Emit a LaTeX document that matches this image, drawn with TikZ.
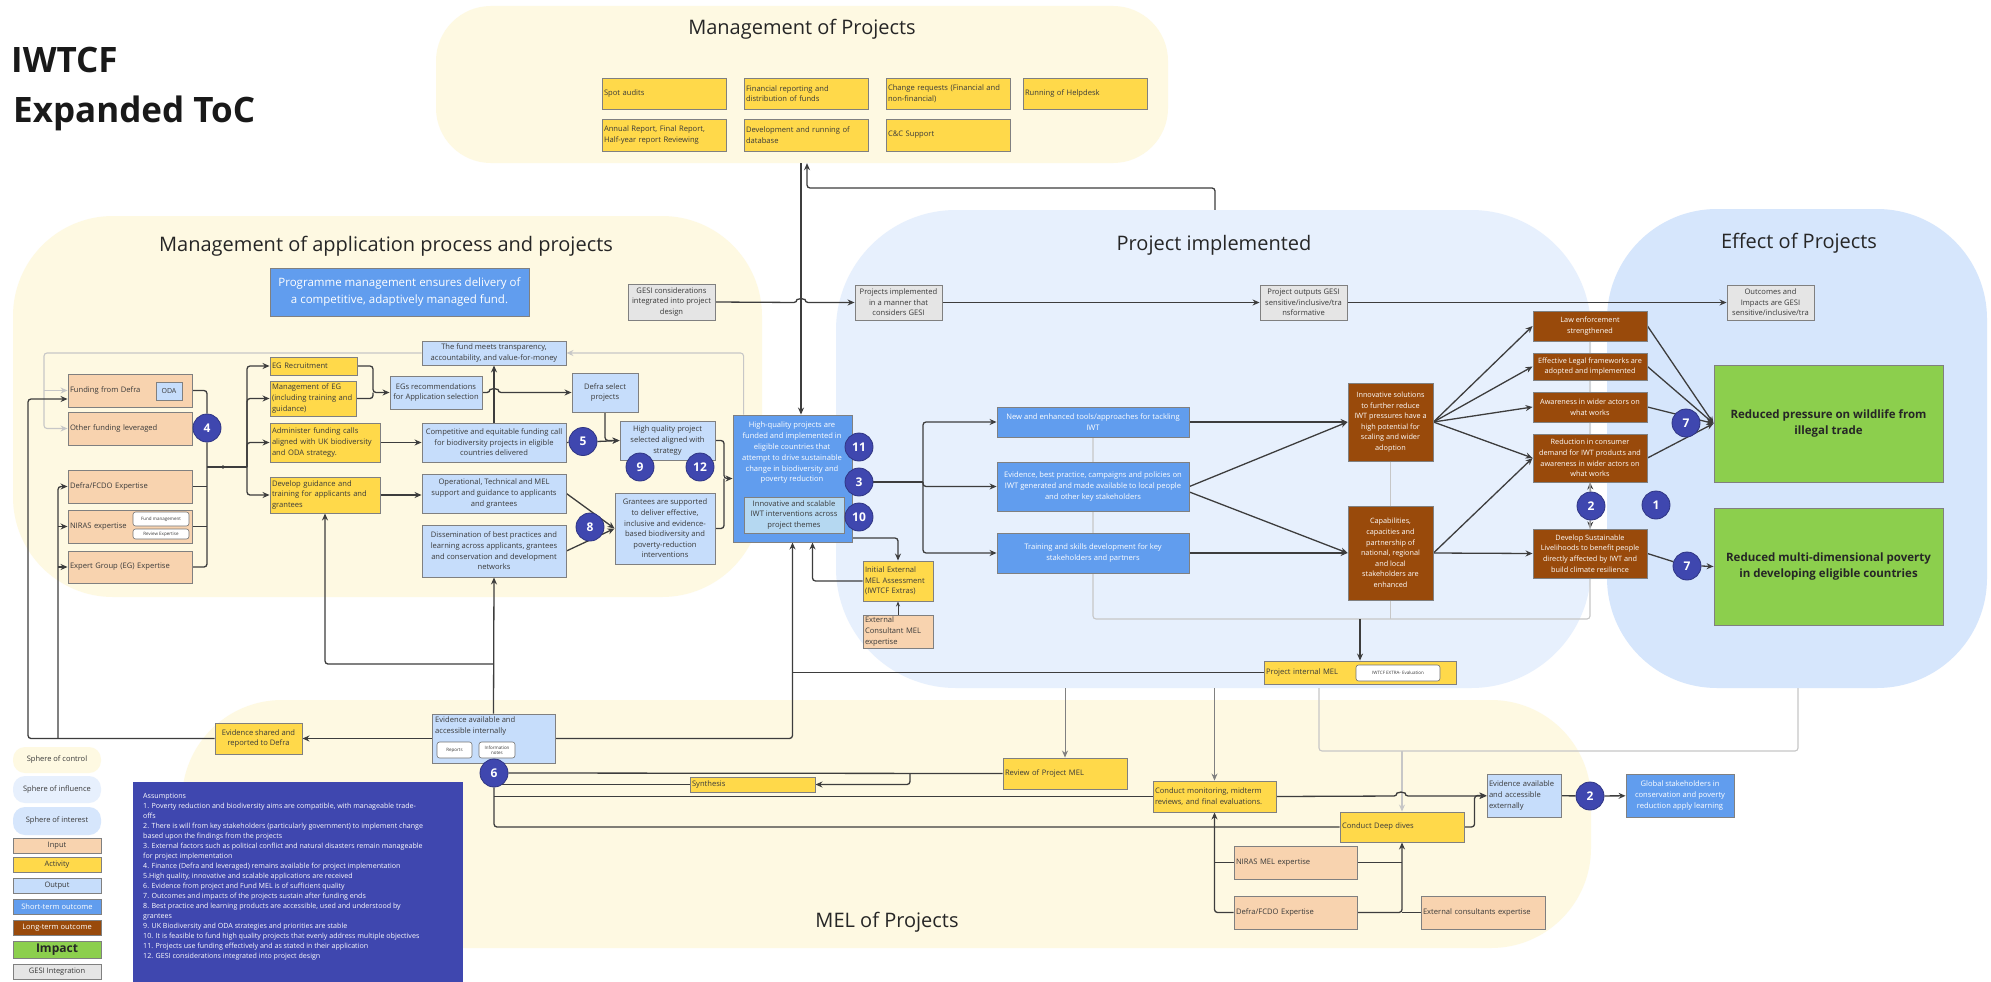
\documentclass[tikz,border=0pt]{standalone}
\usepackage{fontspec}
\setmainfont{Open Sans}
\usetikzlibrary{arrows.meta,calc}
\pgfdeclarelayer{bg}
\pgfdeclarelayer{edges}
\pgfsetlayers{bg,edges,main}

\definecolor{regY}{HTML}{FEF9E2}
\definecolor{regB}{HTML}{E7F0FD}
\definecolor{regB2}{HTML}{D6E6FC}
\definecolor{inpC}{HTML}{F8D3AF}
\definecolor{actC}{HTML}{FFD94A}
\definecolor{outC}{HTML}{C6DDFB}
\definecolor{stoC}{HTML}{619DEE}
\definecolor{ltoC}{HTML}{994A0B}
\definecolor{impC}{HTML}{8CCF4D}
\definecolor{gesC}{HTML}{E5E5E5}
\definecolor{numC}{HTML}{3F47AF}
\definecolor{lnC}{HTML}{3D3D3D}
\definecolor{txC}{HTML}{3A3A3A}
\definecolor{inBx}{HTML}{B5D8F1}

\newcommand\fs[2]{\fontsize{#1}{#2}\selectfont}
% box from corner coordinates, centred text
\newcommand\bx[7][]{\node[#1, minimum width={#5-#3}, minimum height={#6-#4}] (#2) at ({(#3+#5)/2},{(#4+#6)/2}) {#7};}
% box from corner coordinates, left-aligned text
\newcommand\bxl[7][]{\node[#1, minimum width={#5-#3}, minimum height={#6-#4}, text width={#5-#3-4}, inner xsep=2pt, align=left] (#2) at ({(#3+#5)/2},{(#4+#6)/2}) {#7};}

\tikzset{
  bxs/.style={draw=black!50, line width=0.9pt, inner xsep=2pt, inner ysep=1pt, align=center, font=\fs{7.6}{10.6}, text=txC},
  inp/.style={bxs, fill=inpC},
  act/.style={bxs, fill=actC},
  outp/.style={bxs, fill=outC},
  sto/.style={bxs, fill=stoC, text=white},
  lto/.style={bxs, fill=ltoC, text=white, font=\fs{7.3}{10.6}, inner xsep=1pt},
  imp/.style={bxs, fill=impC, text=black!85, font=\bfseries\fs{11.5}{16}},
  ges/.style={bxs, fill=gesC},
  num/.style={circle, fill=numC, draw=numC!75!black, line width=0.8pt, minimum size=28pt, inner sep=0pt, text=white, font=\bfseries\fs{12}{12}},
  pill/.style={draw=black!55, fill=white, rounded corners=2.5pt, line width=0.6pt, inner sep=0.5pt, align=center, font=\fs{4.5}{5}, text=txC},
  ln/.style={draw=lnC, line width=1.3pt, rounded corners=3pt},
  arr/.style={ln, -{Stealth[length=7pt,width=6pt]}},
  gln/.style={draw=black!22, line width=1.1pt, rounded corners=3pt},
  garr/.style={gln, -{Stealth[length=7pt,width=6pt]}},
  mln/.style={draw=black!50, line width=1pt},
  marr/.style={mln, -{Stealth[length=7pt,width=6pt]}},
  region/.style={inner sep=0pt, draw=none},
  rtitle/.style={font=\fs{20}{24}, text=black!85},
  lg/.style={minimum width=88, inner sep=0pt, font=\fs{7.5}{9}},
  txt/.style={font=\fs{7.6}{10.6}, text=txC, inner sep=0pt},
  hop/.style={start angle=180, end angle=0, radius=4pt},
}

\begin{document}
\begin{tikzpicture}[x=1pt,y=-1pt]
\useasboundingbox (0,0) rectangle (1991,982);

% ---------- spheres ----------
\begin{pgfonlayer}{bg}
\fill[white] (0,0) rectangle (1991,982);
\node[region, fill=regY, rounded corners=55pt, minimum width=732, minimum height=157] (mop) at (802,84.5) {};
\node[region, fill=regY, rounded corners=100pt, minimum width=749, minimum height=381] (rapp) at (387.5,406.5) {};
\node[region, fill=regB, rounded corners=120pt, minimum width=755, minimum height=478] (rpi) at (1213.5,449) {};
\node[region, fill=regB2, rounded corners=110pt, minimum width=380, minimum height=479] (reff) at (1797,448.5) {};
\node[region, fill=regY, rounded corners=100pt, minimum width=1409, minimum height=248] (rmel) at (886.5,824) {};
\end{pgfonlayer}

% ---------- titles ----------
\node[anchor=base west, font=\bfseries\fs{35}{40}, text=black!90, inner sep=0pt] (t1) at (11,72) {IWTCF};
\node[anchor=base west, font=\bfseries\fs{35}{40}, text=black!90, inner sep=0pt] (t2) at (13,122) {Expanded ToC};
\node[rtitle] (tmop) at (802,29) {Management of Projects};
\node[rtitle] (tapp) at (386,246) {Management of application process and projects};
\node[rtitle] (tpi) at (1214,245) {Project implemented};
\node[rtitle] (teff) at (1799,243) {Effect of Projects};
\node[rtitle] (tmel) at (887,922) {MEL of Projects};

% ---------- management of projects ----------
\bxl[act]{pa}{602}{78}{726}{109}{Spot audits}
\bxl[act]{pb}{744}{78}{868}{109}{Financial reporting and\\distribution of funds}
\bxl[act]{pc}{886}{78}{1010}{109}{Change requests (Financial and\\non-financial)}
\bxl[act]{pd}{1023}{78}{1147}{109}{Running of Helpdesk}
\bxl[act]{pe}{602}{119}{726}{151}{Annual Report, Final Report,\\Half-year report Reviewing}
\bxl[act]{pf}{744}{119}{868}{151}{Development and running of\\database}
\bxl[act]{pg}{886}{119}{1010}{151}{C\&C Support}

% ---------- application process ----------
\bx[sto, font=\fs{11.5}{16.5}]{pm}{270}{268}{529}{316}{Programme management ensures delivery of\\a competitive, adaptively managed fund.}

\bxl[inp]{fd}{68}{374}{192}{407}{Funding from Defra}
\bx[outp, inner sep=0pt, font=\fs{7}{8}]{oda}{156}{382}{182}{400}{ODA}
\bxl[inp]{ofl}{68}{412}{192}{445}{Other funding leveraged}
\bxl[inp]{dfx}{68}{470}{192}{503}{Defra/FCDO Expertise}
\bxl[inp]{nir}{68}{510}{192}{543}{NIRAS expertise}
\bx[pill]{nira}{133}{512}{189}{526}{Fund management}
\bx[pill]{nirb}{133}{529}{189}{539}{Review Expertise}
\bxl[inp]{egx}{68}{551}{192}{583}{Expert Group (EG) Expertise}

\bxl[act]{egr}{270}{357}{357}{375}{EG Recruitment}
\bxl[act]{meg}{270}{381}{356}{416}{Management of EG\\(including training and\\guidance)}
\bxl[act]{adm}{270}{423}{380}{462}{Administer funding calls\\aligned with UK biodiversity\\and ODA strategy.}
\bxl[act]{dev}{270}{477}{380}{513}{Develop guidance and\\training for applicants and\\grantees}

\bx[outp]{fund}{422}{341}{566}{365}{The fund meets transparency,\\accountability, and value-for-money}
\bx[outp]{egs}{390}{376}{482}{409}{EGs recommendations\\for Application selection}
\bx[outp]{cmp}{422}{423}{566}{462}{Competitive and equitable funding call\\for biodiversity projects in eligible\\countries delivered}
\bx[outp]{opn}{422}{474}{566}{513}{Operational, Technical and MEL\\support and guidance to applicants\\and grantees}
\bx[outp]{dis}{422}{525}{566}{577}{Dissemination of best practices and\\learning across applicants, grantees\\and conservation and development\\networks}
\bx[outp]{dfs}{572}{373}{638}{412}{Defra select\\projects}
\bx[outp]{hq}{620}{421}{715}{460}{High quality project\\selected aligned with\\strategy}
\bx[outp]{gr}{615}{493}{715}{564}{Grantees are supported\\to deliver effective,\\inclusive and evidence-\\based biodiversity and\\poverty-reduction\\interventions}

\bx[sto]{hip}{733}{415}{852}{542}{}
\node[txt, text=white, align=center, font=\fs{7.6}{10.8}] (hipt) at (792,453) {High-quality projects are\\funded and implemented in\\eligible countries that\\attempt to drive sustainable\\change in biodiversity and\\poverty reduction};
\bx[bxs, fill=inBx]{hipi}{744}{497}{844}{533}{Innovative and scalable\\IWT interventions across\\project themes}

\bxl[act]{iem}{863}{561}{933}{601}{Initial External\\MEL Assessment\\(IWTCF Extras)}
\bxl[inp]{ecm}{863}{615}{933}{648}{External\\Consultant MEL\\expertise}

% ---------- GESI strand ----------
\bx[ges]{gc}{628}{284}{715}{320}{GESI considerations\\integrated into project\\design}
\bx[ges]{pig}{855}{285}{942}{320}{Projects implemented\\in a manner that\\considers GESI}
\bx[ges]{pog}{1260}{285}{1347}{320}{Project outputs GESI\\sensitive/inclusive/tra\\nsformative}
\bx[ges]{oig}{1727}{285}{1814}{320}{Outcomes and\\Impacts are GESI\\sensitive/inclusive/tra}

% ---------- project implemented ----------
\bx[sto]{nt}{997}{407}{1189}{437}{New and enhanced tools/approaches for tackling\\IWT}
\bx[sto]{ev}{997}{462}{1189}{511}{Evidence, best practice, campaigns and policies on\\IWT generated and made available to local people\\and other key stakeholders}
\bx[sto]{tr}{997}{533}{1189}{573}{Training and skills development for key\\stakeholders and partners}
\bx[lto]{ino}{1348}{383}{1433}{461}{Innovative solutions\\to further reduce\\IWT pressures have a\\high potential for\\scaling and wider\\adoption}
\bx[lto]{cap}{1348}{506}{1433}{600}{Capabilities,\\capacities and\\partnership of\\national, regional\\and local\\stakeholders are\\enhanced}
\bx[lto]{law}{1533}{311}{1647}{341}{Law enforcement\\strengthened}
\bx[lto]{leg}{1533}{353}{1647}{380}{Effective Legal frameworks are\\adopted and implemented}
\bx[lto]{aw}{1533}{392}{1647}{422}{Awareness in wider actors on\\what works}
\bx[lto]{red}{1533}{434}{1647}{482}{Reduction in consumer\\demand for IWT products and\\awareness in wider actors on\\what works}
\bx[lto]{dsl}{1533}{529}{1647}{578}{Develop Sustainable\\Livelihoods to benefit people\\directly affected by IWT and\\build climate resilience}
\bx[imp]{imp1}{1714}{365}{1943}{482}{Reduced pressure on wildlife from\\illegal trade}
\bx[imp]{imp2}{1714}{508}{1943}{625}{Reduced multi-dimensional poverty\\in developing eligible countries}

% ---------- MEL ----------
\bxl[act]{pim}{1264}{661}{1456}{684}{Project internal MEL}
\bx[pill]{pimx}{1356}{665}{1440}{681}{IWTCF EXTRA- Evaluation}
\bx[outp]{eai}{432}{714}{555}{763}{}
\node[txt, anchor=north west, align=left] (eait) at (435,717) {Evidence available and\\accessible internally};
\bx[pill]{rep}{437}{742}{472}{758}{Reports}
\bx[pill]{inf}{479}{742}{515}{758}{Information\\notes}
\bx[act]{esr}{215}{723}{302}{754}{Evidence shared and\\reported to Defra}
\bxl[act]{syn}{690}{777}{815}{792}{Synthesis}
\bxl[act]{rpm}{1003}{758}{1127}{789}{Review of Project MEL}
\bxl[act]{cm}{1153}{781}{1276}{812}{Conduct monitoring, midterm\\reviews, and final evaluations.}
\bxl[act]{dd}{1340}{812}{1464}{842}{Conduct Deep dives}
\bxl[outp]{eae}{1487}{774}{1561}{817}{Evidence available\\and accessible\\externally}
\bx[sto]{gs}{1626}{774}{1734}{817}{Global stakeholders in\\conservation and poverty\\reduction apply learning}
\bxl[inp]{nm}{1234}{846}{1357}{879}{NIRAS MEL expertise}
\bxl[inp]{dfe}{1234}{896}{1357}{929}{Defra/FCDO Expertise}
\bxl[inp]{ec}{1421}{896}{1545}{929}{External consultants expertise}

% ---------- assumption markers ----------
\node[num] (c4) at (207,428) {4};
\node[num] (c5) at (583,441.5) {5};
\node[num] (c9) at (640,467) {9};
\node[num] (c12) at (700,467) {12};
\node[num] (c8) at (590,527) {8};
\node[num] (c11) at (859,447) {11};
\node[num] (c3) at (859,482) {3};
\node[num] (c10) at (859,517) {10};
\node[num] (c2a) at (1591,506) {2};
\node[num] (c1) at (1656,505) {1};
\node[num] (c7a) at (1686,423) {7};
\node[num] (c7b) at (1687,566) {7};
\node[num] (c6) at (494,773) {6};
\node[num] (c2b) at (1590,796) {2};

% ---------- legend ----------
\node[lg, fill=regY, rounded corners=12pt, minimum height=26, text=txC] (lg1) at (57,760) {Sphere of control};
\node[lg, fill=regB, rounded corners=12pt, minimum height=27, text=txC] (lg2) at (57,789.5) {Sphere of influence};
\node[lg, fill=regB2, rounded corners=12pt, minimum height=28, text=txC] (lg3) at (57,821) {Sphere of interest};
\node[inp, lg, minimum height=15] (lg4) at (57,845.5) {Input};
\node[act, lg, minimum height=15] (lg5) at (57,864.5) {Activity};
\node[outp, lg, minimum height=15] (lg6) at (57,885.5) {Output};
\node[sto, lg, minimum height=15] (lg7) at (57,906.5) {Short-term outcome};
\node[lto, lg, minimum height=15, font=\fs{7.5}{9}] (lg8) at (57,927.5) {Long-term outcome};
\node[imp, lg, minimum height=17, font=\bfseries\fs{12}{12}] (lg9) at (57,949.5) {Impact};
\node[ges, lg, minimum height=15] (lg10) at (57,971.5) {GESI Integration};

% ---------- assumptions ----------
\node[fill=numC, minimum width=330, minimum height=210, inner sep=0pt] (asb) at (298,887) {};
\node[anchor=north west, align=left, text=white, font=\fs{7.1}{10}, inner sep=0pt] (ast) at (143,793) {Assumptions\\
1. Poverty reduction and biodiversity aims are compatible, with manageable trade-\\
offs\\
2. There is will from key stakeholders (particularly government) to implement change\\
based upon the findings from the projects\\
3. External factors such as political conflict and natural disasters remain manageable\\
for project implementation\\
4. Finance (Defra and leveraged) remains available for project implementation\\
5.High quality, innovative and scalable applications are received\\
6. Evidence from project and Fund MEL is of sufficient quality\\
7. Outcomes and impacts of the projects sustain after funding ends\\
8. Best practice and learning products are accessible, used and understood by\\
grantees\\
9. UK Biodiversity and ODA strategies and priorities are stable\\
10. It is feasible to fund high quality projects that evenly address multiple objectives\\
11. Projects use funding effectively and as stated in their application\\
12. GESI considerations integrated into project design};

% ---------- connectors ----------
\begin{pgfonlayer}{edges}
% inputs into the activity bus
\draw[ln] (fd.east) -| (c4.north);
\draw[ln] (ofl.east) -- (c4.west);
\draw[ln] (dfx.east) -- (dfx.east -| c4.south);
\draw[ln] (nir.east) -- (nir.east -| c4.south);
\draw[ln] (egx.east) -| (c4.south);
\coordinate (j1) at (247,467);
\draw[ln] (c4.south |- j1) -- (j1);
\fill[lnC] (223,467) circle (1.8pt);
\draw[arr] (j1) |- (egr.west);
\draw[arr] (j1) |- (meg.west);
\draw[arr] (j1) |- (adm.west);
\draw[arr] (j1) |- (dev.west);
% activities to outputs
\draw[arr] (egr.east) -| (373,392.5) -- (egs.west);
\draw[ln] (meg.east) -| (373,392.5);
\draw[arr] (adm) -- (cmp);
\draw[arr] (dev.east) -- (dev.east -| opn.west);
\draw[arr] (cmp) -- (fund);
\draw[arr] (egs.east) -- (490,392.5) arc[hop] -- (dfs.west);
\draw[arr] (dfs.south) |- (hq.west);
\draw[ln] (cmp.east) -- (c5);
\draw[arr] (c5.east) -- (hq.west);
\coordinate (j2) at (724,478.5);
\draw[arr] (hq.east) -| (j2) -- (hip.west);
\draw[ln] (gr.east) -| (j2);
\draw[arr] (opn.east) -- (gr.west);
\draw[arr] (dis.east) -- (gr.west);
% feedback in grey
\draw[garr] ([xshift=11pt]hip.north west) |- (fund.east);
\draw[garr] (fund.west) -| (ofl.west -| 44,0) -- (ofl.west);
\draw[garr] (fd.west -| 44,0) -- (fd.west);
% evidence loop back to inputs
\draw[arr] (esr.west) -| (28,399) -- (fd.west |- 0,399);
\draw[arr] (58,738.5) |- (dfx.west);
\draw[arr] (nir.west -| 58,0) -- (nir.west);
\draw[arr] (egx.west -| 58,0) -- (egx.west);
\draw[arr] (eai) -- (esr);
\draw[arr] (eai.north) -- (dis.south);
\draw[arr] (eai.north |- 0,664) -| (dev.south);
\draw[arr] (eai.east) -| (hip.south);
\draw[ln] (pim.west) -- (pim.west -| hip.south);
\draw[arr] (iem.west) -| ([xshift=20pt]hip.south);
\draw[arr] (hip.south east |- 0,538) -| (iem.north);
\draw[draw=lnC, line width=0.8pt, -{Stealth[length=5pt,width=4pt]}] (ecm) -- (iem);
% management of projects
\draw[arr] (mop.south -| 801,0) -- (hip.north -| 801,0);
\draw[arr] (rpi.north -| 1215,0) |- (807,188) -- (mop.south -| 807,0);
% GESI strand
\draw[arr] (gc.east) -- (797,302.5) arc[hop] -- (pig.west);
\draw[arr] (pig) -- (pog);
\draw[arr] (pog) -- (oig);
% short-term outcomes
\draw[ln] (c3.east) -- (923,482);
\draw[arr] (923,482) |- (nt.west);
\draw[arr] (923,482) |- (ev.west);
\draw[arr] (923,482) |- (tr.west);
\draw[arr] (nt) -- (ino);
\draw[arr] (ev.east) -- (ino.west);
\draw[arr] (ev.east |- 0,492) -- (cap.west);
\draw[arr] (tr) -- (cap);
% long-term outcomes
\draw[arr] (ino.east) -- (law.west);
\draw[arr] (ino.east) -- (leg.west);
\draw[arr] (ino.east) -- (aw.west);
\draw[arr] (ino.east) -- (red.west);
\draw[arr] (cap.east) -- (red.west);
\draw[arr] (cap.east) -- (dsl.west);
\draw[arr] (c2a) -- (red.south);
\draw[arr] (c2a) -- (dsl.north);
% impacts
\draw[arr] (law.east) -- (imp1.west);
\draw[arr] (leg.east) -- (imp1.west);
\draw[arr] (aw.east) -- (imp1.west);
\draw[arr] (red.east) -- (imp1.west);
\draw[ln] (dsl.east) -- (c7b);
\draw[arr] (c7b.east) -- (imp2.west);
% project monitoring frame
\draw[gln] (nt.south) |- (law.south |- 0,619) -- (law.south);
\draw[gln] (ino.south) -- (cap.north);
\draw[gln] (cap.south) -- (cap.south |- 0,619);
\draw[arr] (pim.north |- 0,619) -- (pim.north);
\draw[marr] (rpm.north |- 0,688) -- (rpm.north);
\draw[marr] (cm.north |- 0,688) -- (cm.north);
\draw[gln] (1319,688) |- (1798,751) -- (1798,688);
\draw[garr] (dd.north |- 0,751) -- (dd.north);
% MEL flows
\draw[ln] (c6.east) -- (rpm.west);
\draw[arr] (910,773) |- (syn.east);
\draw[ln] (syn.west) -- (syn.west -| c6);
\draw[ln] (cm.west) -- (cm.west -| c6);
\draw[ln] (dd.west) -| (c6.south);
\draw[arr] (cm.east) -- (1397,796) arc[hop] -- (eae.west |- 0,796);
\draw[arr] (dd.east) -| ([xshift=-12pt]eae.west) -- (eae.west);
\draw[ln] (eae) -- (c2b);
\draw[arr] (c2b) -- (gs);
\draw[arr] (dfe.west) -| (cm.south);
\draw[ln] (nm.west) -- (nm.west -| cm.south);
\draw[arr] (dfe.east) -| (dd.south);
\draw[ln] (nm.east) -- (nm.east -| dd.south);
\draw[ln] (ec.west) -- (ec.west -| dd.south);
\end{pgfonlayer}
\end{tikzpicture}
\end{document}
